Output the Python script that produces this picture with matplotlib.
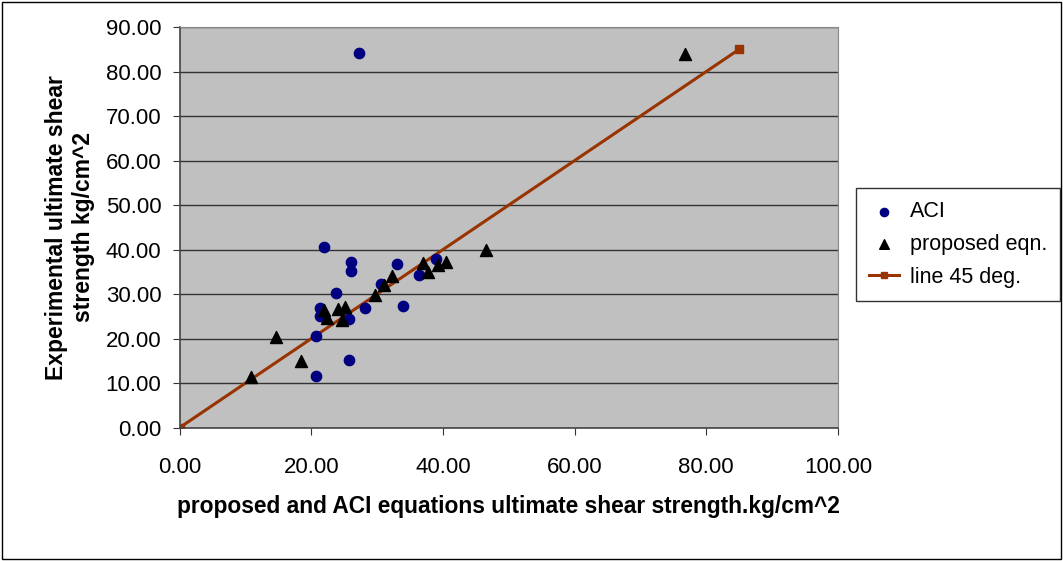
import matplotlib.pyplot as plt
import numpy as np

plt.rcParams['font.family'] = ['Liberation Sans', 'DejaVu Sans']

# ACI equation points (x = predicted, y = experimental)
aci_x = [21.9, 26.1, 26.1, 33.0, 30.6, 23.8, 39.0, 36.3, 21.4, 21.4, 28.2, 34.0, 25.8, 20.8, 25.8, 20.8, 27.2]
aci_y = [40.5, 37.2, 35.1, 36.8, 32.3, 30.3, 37.8, 34.3, 26.9, 25.0, 26.9, 27.3, 24.4, 20.7, 15.3, 11.6, 84.2]

# proposed equation points
prop_x = [14.7, 18.4, 10.8, 22.0, 22.4, 24.1, 25.2, 24.7, 29.7, 31.0, 32.3, 37.0, 37.8, 39.2, 40.5, 46.6, 76.8]
prop_y = [20.4, 15.0, 11.4, 26.5, 24.6, 26.7, 27.0, 24.1, 29.9, 32.0, 34.0, 37.0, 35.0, 36.6, 37.3, 40.0, 84.0]

# 45 degree line
line_x = [0.0, 85.0]
line_y = [0.0, 85.0]

xticks = [0, 20, 40, 60, 80, 100]
yticks = [0, 10, 20, 30, 40, 50, 60, 70, 80, 90]

fig = plt.figure(figsize=(10.63, 5.61), dpi=100)
ax = fig.add_axes([179.5 / 1063, 1 - 427.7 / 561, (838 - 179.5) / 1063, (427.7 - 27) / 561])
ax.set_facecolor('#C0C0C0')

ax.scatter(aci_x, aci_y, s=55, color='#000080', marker='o', label='ACI', zorder=3)
ax.scatter(prop_x, prop_y, s=75, color='black', marker='^', label='proposed eqn.', zorder=4)
ax.plot(line_x, line_y, color='#993300', lw=2.2, marker='s', ms=6, label='line 45 deg.', zorder=2)

ax.set_xlim(0, 100)
ax.set_ylim(0, 90)
ax.set_xticks(xticks)
ax.set_yticks(yticks)
ax.set_xticklabels(['%.2f' % v for v in xticks], fontsize=16)
ax.set_yticklabels(['%.2f' % v for v in yticks], fontsize=16)
ax.yaxis.grid(True, color='#333333', lw=1)
ax.set_axisbelow(True)
ax.tick_params(direction='out', length=5, color='#333333')
ax.tick_params(axis='x', pad=16)
ax.tick_params(axis='y', pad=8)

for s in ['left', 'bottom']:
    ax.spines[s].set_color('#444444')
    ax.spines[s].set_linewidth(1.2)
for s in ['top', 'right']:
    ax.spines[s].set_color('#888888')

ax.set_xlabel('proposed and ACI equations ultimate shear strength.kg/cm^2', fontsize=16.4, fontweight='bold', labelpad=12)
ax.set_ylabel('Experimental ultimate shear\nstrength kg/cm^2', fontsize=16.5, fontweight='bold', labelpad=8)

leg = fig.legend(loc='upper left', bbox_to_anchor=(855.7 / 1063, 1 - 188.3 / 561), fontsize=15.5,
                 frameon=True, fancybox=False, edgecolor='black', handlelength=1.4, borderpad=0.6,
                 labelspacing=0.55, markerscale=0.8, handletextpad=0.5, borderaxespad=0)
leg.get_frame().set_linewidth(1)

fig.patches.append(plt.Rectangle((0.002, 0.004), 0.996, 0.992, transform=fig.transFigure,
                                 fill=False, edgecolor='black', lw=1))

fig.savefig('out.png', dpi=100)
